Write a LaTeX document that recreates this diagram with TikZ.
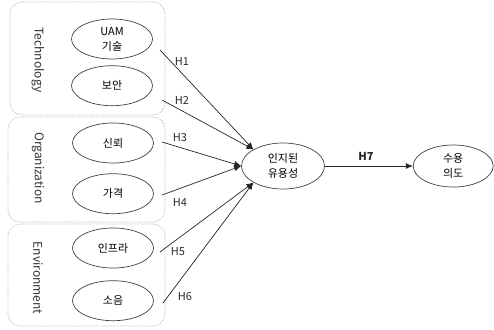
\documentclass[tikz,border=0pt]{standalone}
\usepackage{fontspec}
\setmainfont{Noto Sans CJK KR}
\usetikzlibrary{shapes,arrows.meta,positioning,calc}

\tikzset{
  factor/.style={ellipse, draw=black!75, line width=0.7pt, inner sep=0pt,
    minimum width=81pt, minimum height=40pt, align=center,
    font=\fontsize{11}{15}\selectfont},
  group/.style={rectangle, draw=gray!65, densely dotted, line width=0.7pt,
    rounded corners=12pt, inner sep=0pt},
  grouplabel/.style={rotate=-90, font=\fontsize{12}{14}\selectfont, text=black!80},
  hyp/.style={font=\fontsize{11}{13}\selectfont, text=black!85},
  path/.style={->, draw=black!85, line width=0.7pt},
}

\begin{document}
\begin{tikzpicture}[x=1pt, y=-1pt, >={Latex[length=7pt,width=6pt]}]
          \useasboundingbox (0,0) rectangle (494,329);

          % groups
          \node[group, minimum width=155pt, minimum height=113pt] (techbox) at (87.5,58.5) {};
          \node[group, minimum width=157pt, minimum height=105pt] (orgbox) at (86.5,169.5) {};
          \node[group, minimum width=157pt, minimum height=102pt] (envbox) at (86.5,275) {};

          \node[grouplabel] (techlabel) at (38,60) {Technology};
          \node[grouplabel] (orglabel) at (38,168) {Organization};
          \node[grouplabel] (envlabel) at (38,278) {Environment};

          % nodes
          %Technology
          \node[factor] (uam) at (112,39) {UAM\\기술};
          \node[factor, below=6pt of uam] (security) {보안};
          %Organization
          \node[factor] (trust) at (113,143) {신뢰};
          \node[factor, below=10pt of trust] (price) {가격};
          %Environment
          \node[factor] (infra) at (113,248) {인프라};
          \node[factor, below=12pt of infra] (noise) {소음};

          %outcome
          \node[factor, minimum width=83pt, minimum height=46pt] (usefulness) at (283,166) {인지된\\유용성};
          \node[factor, minimum width=80pt, minimum height=42pt, right=88pt of usefulness] (intention) {수용\\의도};

          % start points
          \coordinate (s1) at (160,50);
          \coordinate (s2) at (162,100);
          \coordinate (s3) at (162,142);
          \coordinate (s4) at (162,195);
          \coordinate (s5) at (160,252);
          \coordinate (s6) at (163,303);

          % edges
          \draw[path] (s1) -- (usefulness.north west);
          \draw[path] (s2) -- (usefulness.north west);
          \draw[path] (s3) -- (usefulness.west);
          \draw[path] (s4) -- (usefulness.west);
          \draw[path] (s5) -- (usefulness.south west);
          \draw[path] (s6) -- (usefulness.south west);
          \draw[path] (usefulness) -- (intention);

          % labels
          \node[hyp] (h1) at (182,61) {H1};
          \node[hyp] (h2) at (182,100) {H2};
          \node[hyp] (h3) at (180,138) {H3};
          \node[hyp] (h4) at (180,202) {H4};
          \node[hyp] (h5) at (178,252) {H5};
          \node[hyp] (h6) at (185,297) {H6};
          \node[hyp, font=\fontsize{11}{13}\selectfont\bfseries] (h7) at (366,156) {H7};

\end{tikzpicture}
\end{document}
